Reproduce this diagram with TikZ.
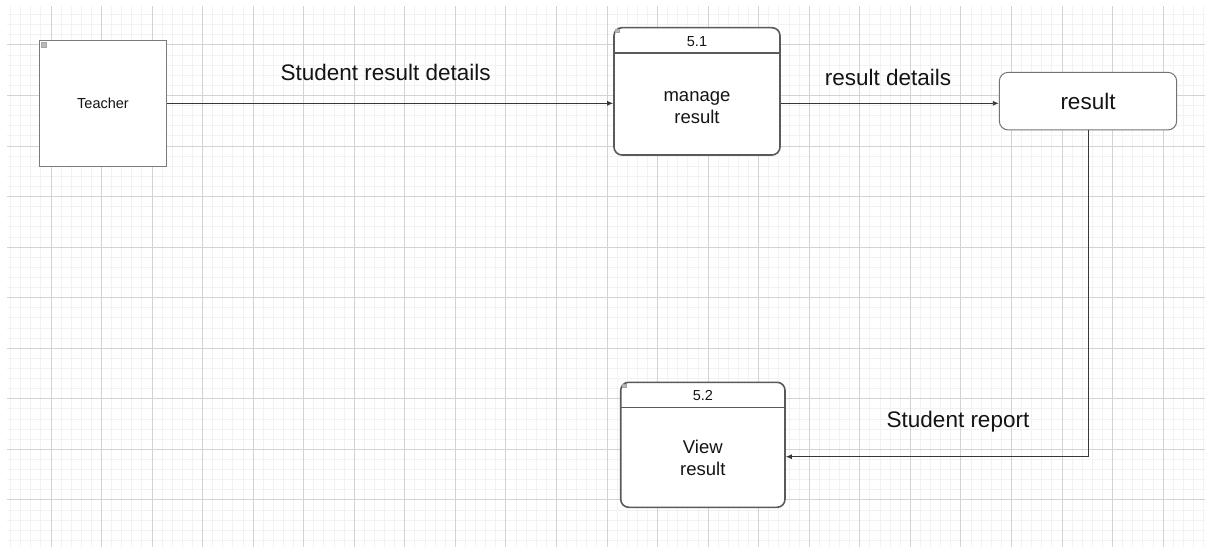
\documentclass[tikz,border=0pt]{standalone}
\usepackage{fontspec}
\setmainfont{Liberation Sans}
\usetikzlibrary{arrows.meta}
\definecolor{gminor}{HTML}{F2F2F2}
\definecolor{gmajor}{HTML}{D3D3D3}
\definecolor{edge}{HTML}{5A5A5A}
\definecolor{txt}{HTML}{141414}
\tikzset{
  minorline/.style={draw=gminor, line width=1pt},
  majorline/.style={draw=gmajor, line width=1pt},
  entity/.style={draw=edge!80, line width=1pt, fill=white, text=txt,
    font=\fontsize{14.5}{17}\selectfont, inner sep=0pt},
  procbox/.style={draw=edge, line width=1.6pt, rounded corners=8pt, fill=white, inner sep=0pt},
  storebox/.style={draw=edge!85, line width=1pt, rounded corners=9pt, fill=white, inner sep=0pt,
    text=txt, font=\fontsize{22.5}{27}\selectfont},
  headtext/.style={text=txt, font=\fontsize{14.5}{17}\selectfont, inner sep=0pt},
  bodytext/.style={text=txt, font=\fontsize{18.5}{21.7}\selectfont, align=center, inner sep=0pt},
  flowlabel/.style={text=txt, font=\fontsize{22.5}{27}\selectfont, inner sep=0pt},
  flow/.style={draw=txt!85, line width=0.9pt, -{Latex[length=6pt,width=5pt]}},
  icon/.style={fill=gray!55, draw=gray!70, line width=0.4pt}
}
\begin{document}
\begin{tikzpicture}[x=1pt,y=-1pt]
\useasboundingbox (0,0) rectangle (1205,548);
\fill[white] (0,0) rectangle (1205,548);
% grid
\begin{scope}
\clip (7,7) rectangle (1205,546);
\foreach \i in {-5,...,115} {\draw[minorline] ({51+10.11*\i},0) -- ({51+10.11*\i},548);}
\foreach \j in {-4,...,50} {\draw[minorline] (0,{45+10.11*\j}) -- (1205,{45+10.11*\j});}
\foreach \i in {-1,...,23} {\draw[majorline] ({51+50.55*\i},0) -- ({51+50.55*\i},548);}
\foreach \j in {-1,...,10} {\draw[majorline] (0,{45+50.55*\j}) -- (1205,{45+50.55*\j});}
\end{scope}
% Teacher entity
\node[entity, minimum width=127pt, minimum height=126pt] (teacher) at (103,103.3) {Teacher};
\fill[icon] (41,42) rectangle (46.5,47);
% process 5.1
\node[procbox, minimum width=166pt, minimum height=127.3pt] (p1) at (697,91.35) {};
\coordinate (h1) at (697,53.3);
\draw[draw=edge, line width=1.6pt] (p1.west |- h1) -- (p1.east |- h1);
\node[headtext] (p1num) at (697,41.7) {5.1};
\node[bodytext] (p1txt) at (697,107.5) {manage\\result};
\fill[icon] (615.5,29.5) rectangle (619.5,32.5);
% data store result
\node[storebox, minimum width=177.4pt, minimum height=57.7pt] (res) at (1088,101.15) {result};
% process 5.2
\node[procbox, minimum width=164.3pt, minimum height=125pt] (p2) at (702.85,444.8) {};
\coordinate (h2) at (702.85,407.3);
\draw[draw=edge, line width=1.6pt] (p2.west |- h2) -- (p2.east |- h2);
\node[headtext] (p2num) at (702.85,396) {5.2};
\node[bodytext] (p2txt) at (702.85,458) {View\\result};
\fill[icon] (622.5,384) rectangle (626.5,387.5);
% flows
\draw[flow] (teacher.east) -- (p1.west |- teacher.east);
\draw[flow] (p1.east |- teacher.east) -- (res.west |- teacher.east);
\coordinate (turn) at (1088,456.7);
\draw[flow] (res.south) -- (turn) -- (p2.east |- turn);
% labels
\node[flowlabel] (l1) at (385.7,72) {Student result details};
\node[flowlabel] (l2) at (888,77) {result details};
\node[flowlabel] (l3) at (958,421.5) {Student report};
\end{tikzpicture}
\end{document}
